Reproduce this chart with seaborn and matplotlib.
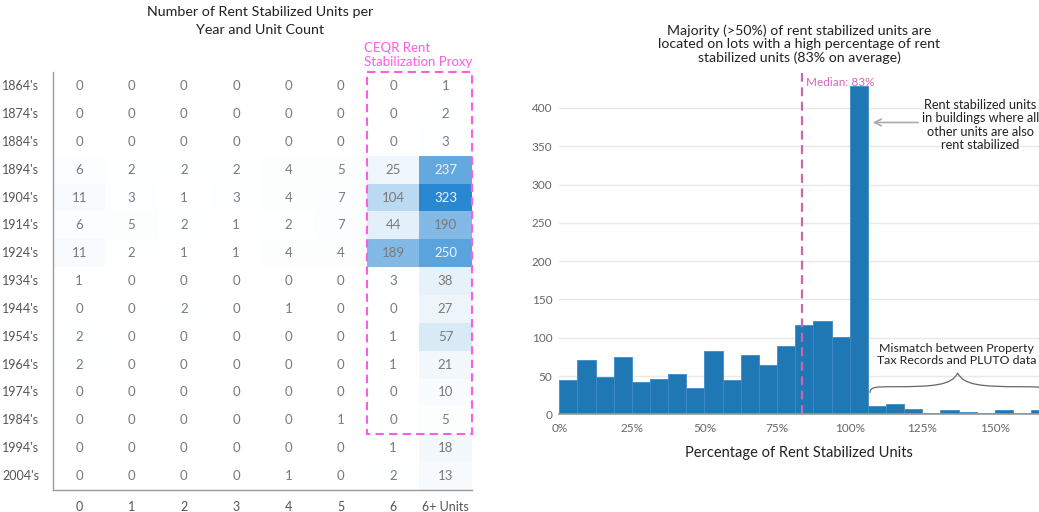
import numpy as np
import pandas as pd
import matplotlib.pyplot as plt
import seaborn as sns
from matplotlib.colors import LinearSegmentedColormap
from matplotlib.patches import Rectangle, PathPatch
from matplotlib.path import Path
from matplotlib.ticker import PercentFormatter

# --- heatmap data: rent stabilized units per decade and unit count
decades = ["1864's", "1874's", "1884's", "1894's", "1904's", "1914's", "1924's", "1934's",
           "1944's", "1954's", "1964's", "1974's", "1984's", "1994's", "2004's"]
unit_counts = ["0", "1", "2", "3", "4", "5", "6", "6+ Units"]
units = [
    [0, 0, 0, 0, 0, 0, 0, 1],
    [0, 0, 0, 0, 0, 0, 0, 2],
    [0, 0, 0, 0, 0, 0, 0, 3],
    [6, 2, 2, 2, 4, 5, 25, 237],
    [11, 3, 1, 3, 4, 7, 104, 323],
    [6, 5, 2, 1, 2, 7, 44, 190],
    [11, 2, 1, 1, 4, 4, 189, 250],
    [1, 0, 0, 0, 0, 0, 3, 38],
    [0, 0, 2, 0, 1, 0, 0, 27],
    [2, 0, 0, 0, 0, 0, 1, 57],
    [2, 0, 0, 0, 0, 0, 1, 21],
    [0, 0, 0, 0, 0, 0, 0, 10],
    [0, 0, 0, 0, 0, 1, 0, 5],
    [0, 0, 0, 0, 0, 0, 1, 18],
    [0, 0, 0, 0, 1, 0, 2, 13],
]

# --- histogram data: lots per share of rent stabilized units (bins of 6.25%)
bin_width = 0.0625
lot_counts = [45, 71, 49, 75, 42, 46, 52, 35, 83, 45, 78, 64, 89, 117, 122, 101,
              428, 11, 14, 7, 2, 6, 3, 2, 5, 2, 5]
median_share = 0.835

sns.set_theme(style="white")
plt.rcParams["font.family"] = ["Lato", "DejaVu Sans"]

fig = plt.figure(figsize=(10.39, 5.12), dpi=100)
ax1 = fig.add_axes([0.051, 0.043, 0.403, 0.816])
ax2 = fig.add_axes([0.5383, 0.1908, 0.4617, 0.6672])

# ---------------- heatmap
df = pd.DataFrame(units, index=decades, columns=unit_counts)
cmap = LinearSegmentedColormap.from_list("rs", ["#ffffff", "#2a88d2"])
sns.heatmap(df, ax=ax1, cmap=cmap, vmin=0, vmax=323, annot=True, fmt="d",
            cbar=False, annot_kws={"fontsize": 9.5})
for t in ax1.texts:
    if t.get_color() != "w":
        t.set_color("#7a7a7a")
    else:
        t.set_color("#eef4fa")
for side in ["left", "bottom"]:
    ax1.spines[side].set_visible(True)
    ax1.spines[side].set_color("#9a9a9a")
    ax1.spines[side].set_linewidth(1)
ax1.tick_params(length=0, labelsize=9, labelcolor="#555555", pad=8)
ax1.tick_params(axis="y", pad=10)
ax1.set_xticklabels(ax1.get_xticklabels(), rotation=0)
ax1.set_yticklabels(ax1.get_yticklabels(), rotation=0)
ax1.set_xlabel("")
ax1.set_ylabel("")

ax1.add_patch(Rectangle((6, 0), 2, 13, fill=False, ec="#ff5ce6", lw=1.5,
                        ls=(0, (4, 2.5)), clip_on=False))
ax1.text(5.95, -0.15, "CEQR Rent\nStabilization Proxy", color="#ff5ce6",
         fontsize=9.5, ha="left", va="bottom", linespacing=1.25)
fig.text(0.25, 0.988, "Number of Rent Stabilized Units per\nYear and Unit Count",
         ha="center", va="top", fontsize=10.3, color="#222222", linespacing=1.6)

# ---------------- histogram
edges = list(np.arange(len(lot_counts) + 1) * bin_width)
hist_df = pd.DataFrame({"share": np.array(edges[:-1]) + bin_width / 2, "lots": lot_counts})
sns.histplot(data=hist_df, x="share", weights="lots", bins=edges, ax=ax2, color="#1f77b4",
             alpha=1, edgecolor="#3d8bc6", linewidth=0.6, zorder=2)
ax2.set_xlim(0, 1.652)
ax2.set_ylim(0, 446)
ax2.set_yticks(range(0, 401, 50))
ax2.set_xticks([0, 0.25, 0.5, 0.75, 1.0, 1.25, 1.5])
ax2.xaxis.set_major_formatter(PercentFormatter(1.0, decimals=0))
ax2.yaxis.grid(True, color="#e8e8e8", lw=1, zorder=0)
ax2.set_axisbelow(True)
for side in ["left", "right", "top"]:
    ax2.spines[side].set_visible(False)
ax2.spines["bottom"].set_color("#9a9a9a")
ax2.tick_params(axis="x", length=3, color="#9a9a9a", labelsize=8.5, labelcolor="#666666", pad=3)
ax2.tick_params(axis="y", length=0, labelsize=8.5, labelcolor="#666666", pad=5)
ax2.set_ylabel("")
ax2.set_xlabel("Percentage of Rent Stabilized Units", fontsize=10.5, color="#222222", labelpad=9)
ax2.set_title("Majority (>50%) of rent stabilized units are\nlocated on lots with a high percentage of rent\n"
              "stabilized units (83% on average)", fontsize=10.2, color="#222222", pad=8, linespacing=1.1)

ax2.axvline(median_share, color="#cc66b0", ls=(0, (4, 2.5)), lw=1.6, zorder=3)
ax2.text(median_share + 0.014, 441, "Median: 83%", color="#d466bb", fontsize=8.5,
         ha="left", va="top")

ax2.annotate("", xy=(1.07, 381), xytext=(1.245, 381),
             arrowprops=dict(arrowstyle="->", color="#aaaaaa", lw=1.2))
ax2.text(1.45, 412, "Rent stabilized units\nin buildings where all\nother units are also\nrent stabilized",
         ha="center", va="top", fontsize=9.2, color="#222222", linespacing=1.15)

ax2.text(1.368, 93, "Mismatch between Property\nTax Records and PLUTO data",
         ha="center", va="top", fontsize=8.9, color="#222222", linespacing=1.15)
# curly brace over the mismatch bins
x0, xm, x1 = 1.07, 1.372, 1.674
brace = Path([(x0, 28), (x0, 36), (x0 + 0.02, 36), (x0 + 0.08, 36),
              (xm - 0.08, 36), (xm - 0.02, 38), (xm, 54),
              (xm + 0.02, 38), (xm + 0.08, 36), (x1 - 0.08, 36),
              (x1 - 0.02, 36), (x1, 36), (x1, 28)],
             [Path.MOVETO, Path.CURVE4, Path.CURVE4, Path.CURVE4,
              Path.CURVE4, Path.CURVE4, Path.CURVE4,
              Path.CURVE4, Path.CURVE4, Path.CURVE4,
              Path.CURVE4, Path.CURVE4, Path.CURVE4])
ax2.add_patch(PathPatch(brace, fill=False, ec="#666666", lw=0.9, zorder=4))

fig.savefig("out.png", dpi=100)
